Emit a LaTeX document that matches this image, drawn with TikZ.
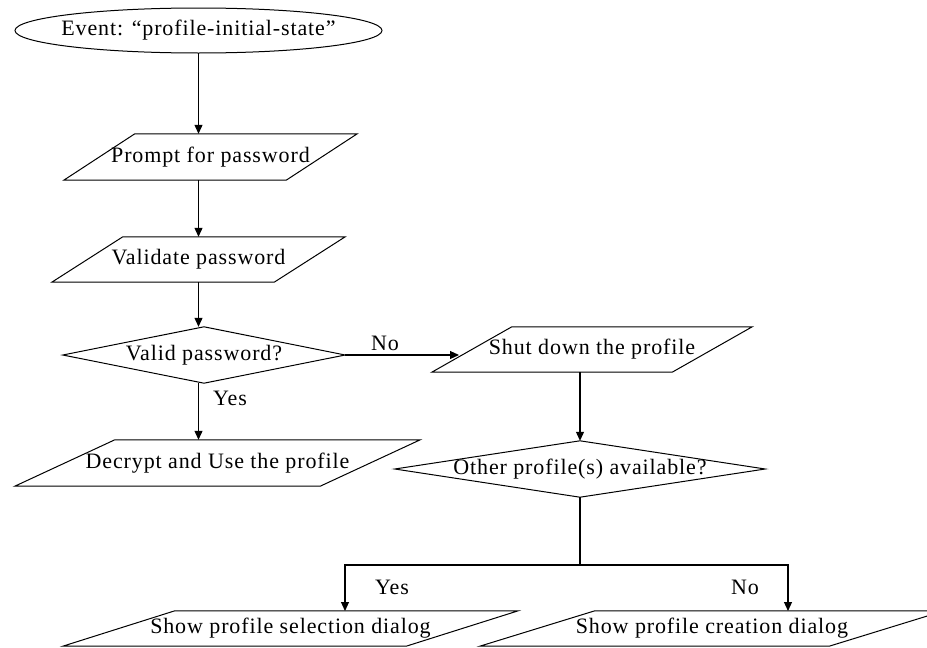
\documentclass[tikz,border=0pt]{standalone}
\usepackage{fontspec}
\setmainfont{Liberation Serif}[LetterSpace=4.0]
\usetikzlibrary{arrows.meta,calc}
\newcommand\paral[2]{\draw[outline] (#1.south west) -- ($(#1.south east)-(#2,0)$) -- (#1.north east) -- ($(#1.north west)+(#2,0)$) -- cycle;}
\newcommand\diam[1]{\draw[outline] (#1.north) -- (#1.east) -- (#1.south) -- (#1.west) -- cycle;}
\begin{document}
\begin{tikzpicture}[x=1pt,y=-1pt,
 box/.style={draw=none, inner sep=0pt, font=\fontsize{22}{26}\selectfont},
 lbl/.style={inner sep=0pt, font=\fontsize{22}{26}\selectfont},
 outline/.style={draw=black, line width=1pt},
 arr/.style={draw=black, line width=1.1pt, -{Triangle[length=9pt,width=8pt]}},
 link/.style={draw=black, line width=1.1pt}]
\clip (0,0) rectangle (927,648);
\fill[white] (0,0) rectangle (927,648);
% nodes
\node[box, minimum width=367pt, minimum height=45pt] (event) at (198.5,30.5) {Event: “profile-initial-state”};
\draw[outline] (event.center) ellipse [x radius=183.5pt, y radius=22.5pt];
\node[box, minimum width=293pt, minimum height=46pt] (prompt) at (210.5,157) {Prompt for password};
\paral{prompt}{71}
\node[box, minimum width=293pt, minimum height=45pt] (validate) at (198.5,259.5) {Validate password};
\paral{validate}{71}
\node[box, minimum width=282pt, minimum height=56pt] (valid) at (204,355) {Valid password?};
\diam{valid}
\node[box, minimum width=405pt, minimum height=46pt] (decrypt) at (217.5,463) {Decrypt and Use the profile};
\paral{decrypt}{100}
\node[box, minimum width=320pt, minimum height=45pt] (shut) at (592,349.5) {Shut down the profile};
\paral{shut}{80}
\node[box, minimum width=370pt, minimum height=56pt] (other) at (580,469) {Other profile(s) available?};
\diam{other}
\node[box, minimum width=455pt, minimum height=35pt] (select) at (290.5,628.5) {Show profile selection dialog};
\paral{select}{112}
\node[box, minimum width=464pt, minimum height=35pt] (create) at (712,628.5) {Show profile creation dialog};
\paral{create}{115}
% labels
\node[lbl] (yes1) at (230,398) {Yes};
\node[lbl] (no1) at (385,343) {No};
\node[lbl] (yes2) at (392,587) {Yes};
\node[lbl] (no2) at (745,587) {No};
% connectors
\draw[arr] (event.south) -- (event.south |- prompt.north);
\draw[arr] (prompt.south -| validate.north) -- (validate.north);
\draw[arr] (validate.south) -- (validate.south |- valid.north);
\draw[arr] (validate.south |- valid.south) -- (validate.south |- decrypt.north);
\coordinate (sdin) at (459,355);
\draw[arr] (valid.east) -- (sdin);
\draw[arr] (shut.south -| other.north) -- (other.north);
\coordinate (split) at (580,565);
\coordinate (ys) at (345,611);
\coordinate (nc) at (788,611);
\draw[link] (other.south) -- (split);
\draw[arr] (split) -| (ys);
\draw[arr] (split) -| (nc);
\end{tikzpicture}
\end{document}
